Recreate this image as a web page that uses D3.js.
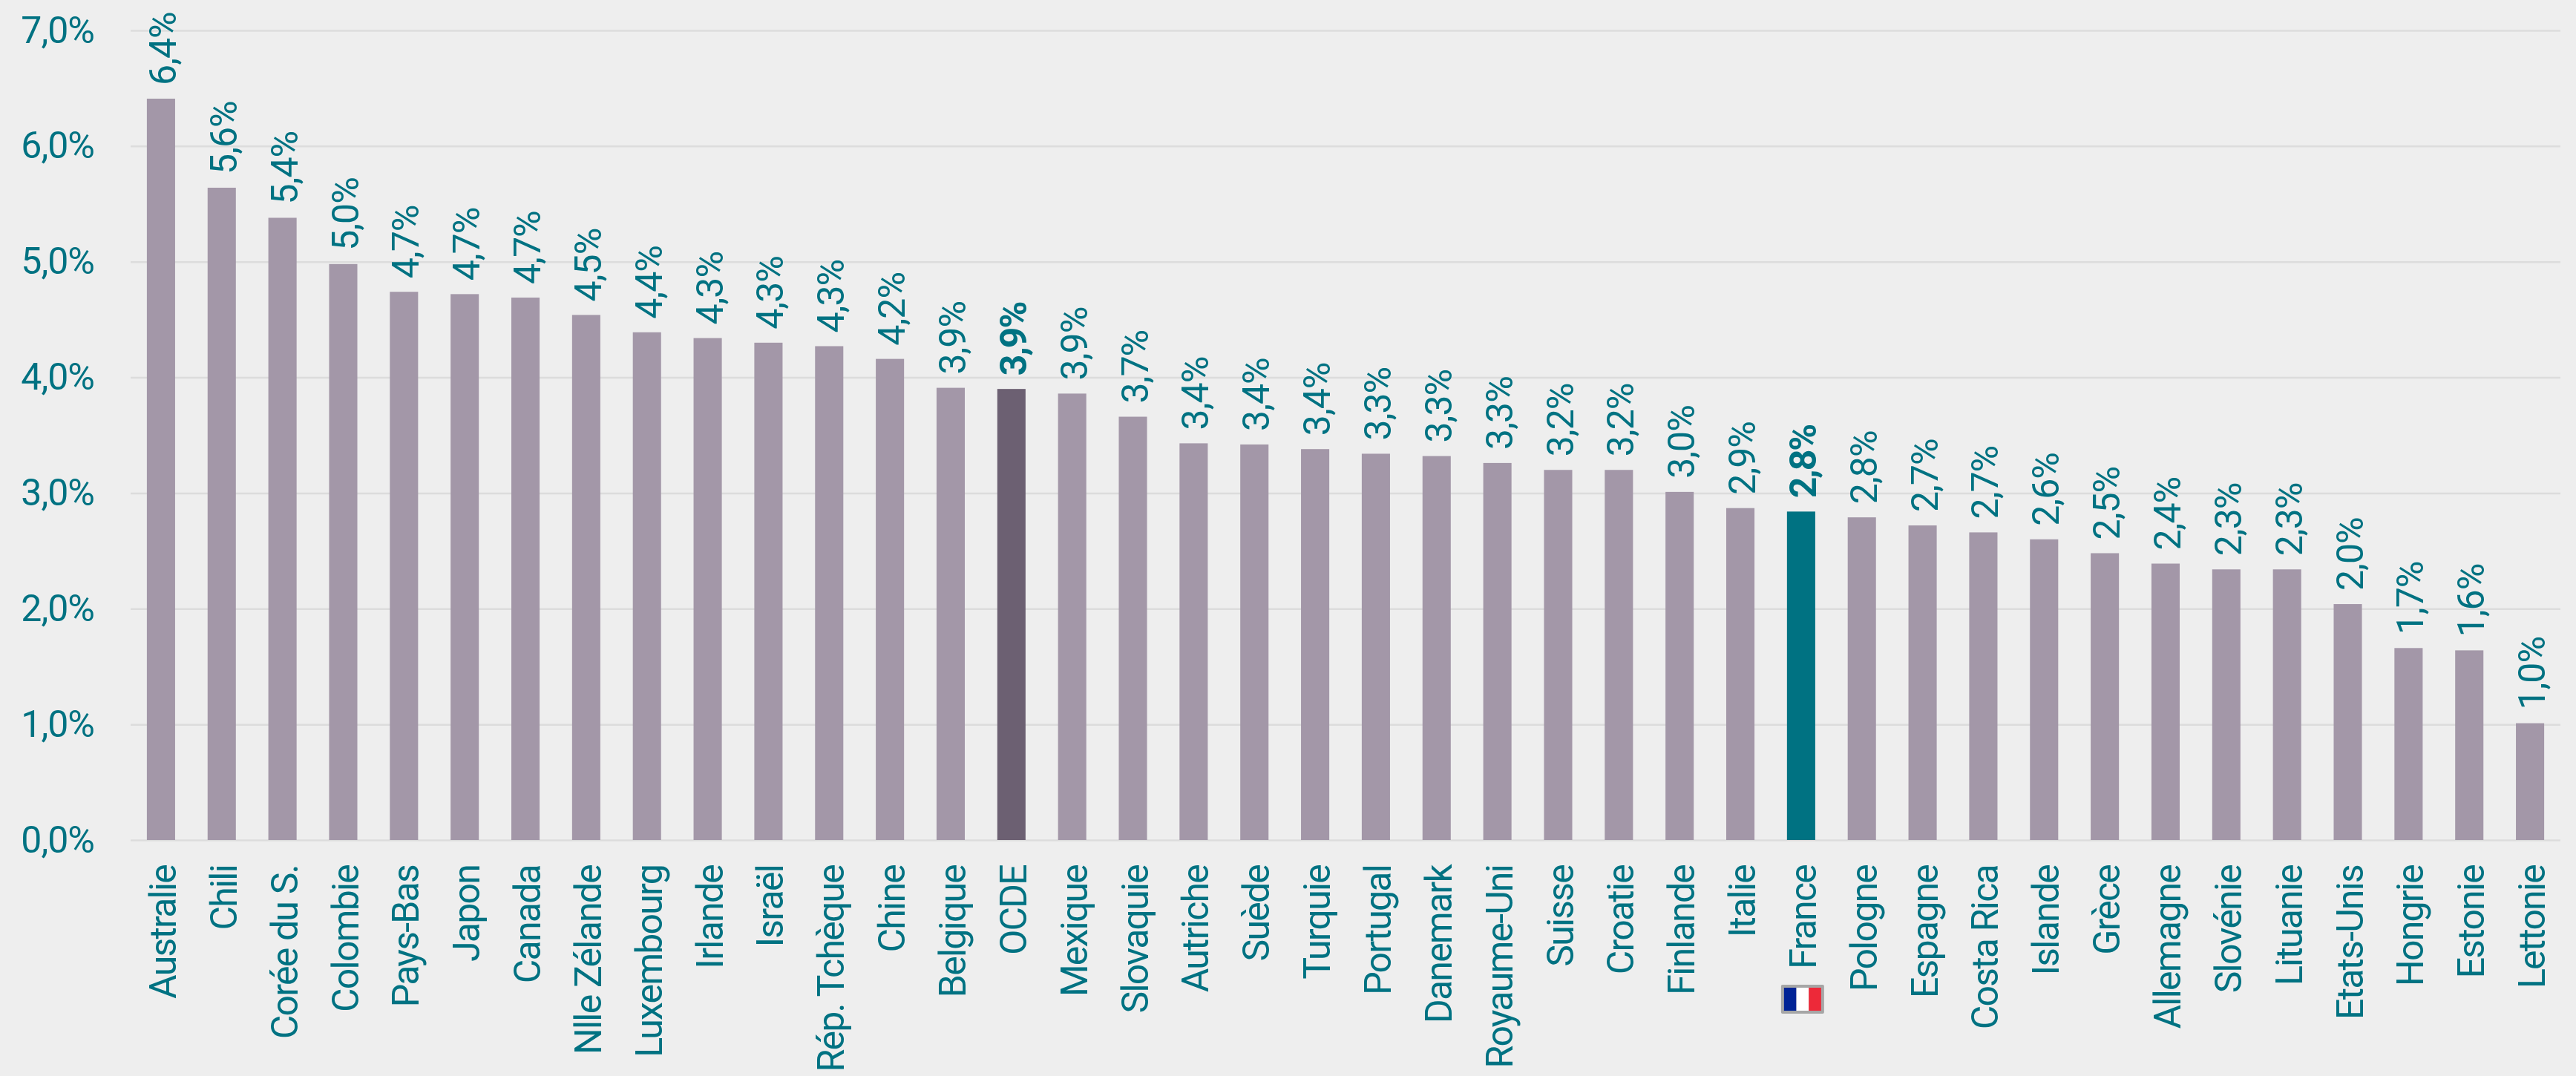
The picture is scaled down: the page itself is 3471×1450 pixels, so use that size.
<!DOCTYPE html>
<html>
<head>
<meta charset="utf-8">
<script src="https://cdn.jsdelivr.net/npm/d3@7"></script>
<style>
    html, body { margin: 0; padding: 0; background: #eeeeee; overflow: hidden; }
    text { font-family: Roboto, sans-serif; fill: #007282; }
    .label { font-size: 50px; letter-spacing: -1px; }
    .axis .domain { display: none; }
</style>
</head>
<body>
<div id="chart"></div>
<script>
const countries = ["Australie", "Chili", "Corée du S.", "Colombie", "Pays-Bas", "Japon", "Canada", "Nlle Zélande",
    "Luxembourg", "Irlande", "Israël", "Rép. Tchèque", "Chine", "Belgique", "OCDE", "Mexique", "Slovaquie",
    "Autriche", "Suède", "Turquie", "Portugal", "Danemark", "Royaume-Uni", "Suisse", "Croatie", "Finlande",
    "Italie", "France", "Pologne", "Espagne", "Costa Rica", "Islande", "Grèce", "Allemagne", "Slovénie",
    "Lituanie", "Etats-Unis", "Hongrie", "Estonie", "Lettonie"];
const shares = [6.41, 5.64, 5.38, 4.98, 4.74, 4.72, 4.69, 4.54,
    4.39, 4.34, 4.30, 4.27, 4.16, 3.91, 3.90, 3.86, 3.66,
    3.43, 3.42, 3.38, 3.34, 3.32, 3.26, 3.20, 3.20, 3.01,
    2.87, 2.84, 2.79, 2.72, 2.66, 2.60, 2.48, 2.39, 2.34,
    2.34, 2.04, 1.66, 1.64, 1.01];
const yTicks = [0, 1, 2, 3, 4, 5, 6, 7];
const highlighted = ["OCDE", "France"];
const flagColors = ["#002395", "#ffffff", "#ed2939"];

const width = 3471, height = 1450;
const plot = {left: 176, right: 3450, top: 41, bottom: 1132};

const pct = v => v.toFixed(1).replace(".", ",") + "%";

const svg = d3.select("#chart").append("svg")
    .attr("width", width)
    .attr("height", height)
    .style("display", "block");

const x = d3.scaleBand()
    .domain(countries)
    .range([plot.left, plot.right])
    .paddingInner(0.535)
    .paddingOuter(0.2675);

const y = d3.scaleLinear()
    .domain([0, 7])
    .range([plot.bottom, plot.top]);

// gridlines + y labels
const yAxis = d3.axisLeft(y)
    .tickValues(yTicks)
    .tickFormat(pct)
    .tickSize(-(plot.right - plot.left))
    .tickPadding(49);

svg.append("g")
    .attr("class", "y-axis axis")
    .attr("transform", `translate(${plot.left},0)`)
    .call(yAxis)
    .call(g => g.selectAll(".tick line").attr("stroke", "#dcdcdc").attr("stroke-width", 2.5))
    .call(g => g.selectAll(".tick text").attr("class", "label").style("font-size", "50px").style("font-family", "Roboto, sans-serif"));

// bars
svg.selectAll(".bar")
    .data(countries)
    .join("rect")
    .attr("class", "bar")
    .attr("x", d => x(d))
    .attr("y", (d, i) => y(shares[i]))
    .attr("width", x.bandwidth())
    .attr("height", (d, i) => y(0) - y(shares[i]))
    .attr("fill", d => d === "France" ? "#007282" : d === "OCDE" ? "#6c6072" : "#a397a8");

// value labels, rotated above the bars
svg.selectAll(".value")
    .data(countries)
    .join("text")
    .attr("class", "value label")
    .attr("transform", (d, i) => `translate(${x(d) + x.bandwidth() + 1},${y(shares[i]) - 18}) rotate(-90)`)
    .style("font-weight", d => highlighted.includes(d) ? 700 : 400)
    .style("letter-spacing", d => highlighted.includes(d) ? "-2px" : null)
    .text((d, i) => pct(shares[i]));

// category labels
const xAxis = d3.axisBottom(x).tickSize(0);

svg.append("g")
    .attr("class", "x-axis axis")
    .attr("transform", `translate(0,${plot.bottom})`)
    .call(xAxis)
    .call(g => g.selectAll(".tick text")
        .attr("class", "label")
        .style("font-size", "50px")
        .style("letter-spacing", "-1.8px")
        .style("font-family", "Roboto, sans-serif")
        .attr("text-anchor", "end")
        .attr("dy", 0)
        .attr("y", 0)
        .attr("transform", `translate(${x.bandwidth() / 2 + 1},34) rotate(-90)`));

// French flag under its label
const flagX = d3.scaleBand()
    .domain(flagColors)
    .range([x("France") + x.bandwidth() / 2 - 23, x("France") + x.bandwidth() / 2 + 27]);

const flag = svg.append("g").attr("class", "flag");
flag.append("rect")
    .attr("x", flagX.range()[0] - 4)
    .attr("y", 1327)
    .attr("width", 58)
    .attr("height", 39)
    .attr("rx", 2)
    .attr("fill", "#a6a6a6");
flag.selectAll(".stripe")
    .data(flagColors)
    .join("rect")
    .attr("class", "stripe")
    .attr("x", d => flagX(d))
    .attr("y", 1331)
    .attr("width", flagX.bandwidth())
    .attr("height", 31)
    .attr("fill", d => d);
</script>
</body>
</html>
